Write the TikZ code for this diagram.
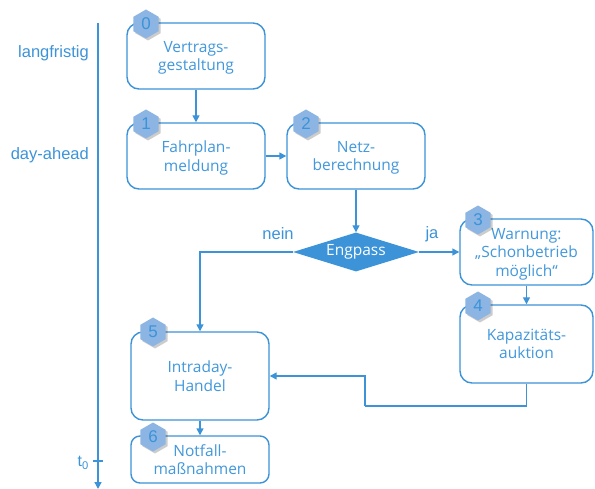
\documentclass[tikz,border=0pt]{standalone}
\usepackage{fontspec}
\setmainfont{Open Sans}
\newfontfamily\arialfont{Liberation Sans}
\usetikzlibrary{shapes.geometric,arrows.meta,shadows}
\definecolor{linieblau}{HTML}{3C93D8}
\definecolor{textblau}{HTML}{4198DC}
\definecolor{wabenblau}{HTML}{8CB5E3}

\tikzset{
	box/.style={draw=linieblau, line width=1.4pt, rounded corners=12pt, fill=white,
		text=textblau, align=center, inner sep=0pt, text depth=-2pt,
		font=\fontsize{15.5}{18.5}\selectfont},
	raute/.style={diamond, aspect=3.2, fill=linieblau, text=white, inner sep=0pt,
		minimum width=126pt, minimum height=39pt, font=\fontsize{15.5}{18.5}\selectfont},
	wabe/.style={regular polygon, regular polygon sides=6, shape border rotate=30,
		minimum size=29pt, inner sep=0pt, fill=wabenblau, text=linieblau,
		font=\arialfont\fontsize{17}{17}\selectfont,
		drop shadow={shadow xshift=2pt, shadow yshift=-2pt, opacity=0.2, fill=black}},
	zeittext/.style={text=linieblau, inner sep=0pt, font=\arialfont\fontsize{16.5}{18}\selectfont},
	pfeil/.style={draw=linieblau, line width=1.4pt, -{Triangle[length=7pt,width=7pt]}},
	linie/.style={draw=linieblau, line width=1.4pt}
}

\begin{document}
\begin{tikzpicture}[x=1pt, y=-1pt]
		\useasboundingbox (0,0) rectangle (595,489);

		\coordinate (zeitoben) at (98,23);
		\coordinate (zeitunten) at (98,489);
		\coordinate (t0) at (98,461);
		\draw[pfeil] (zeitoben) -- (zeitunten);
		\draw[linie] ([xshift=-5pt]t0) -- ([xshift=5pt]t0);

		\node[zeittext, anchor=east] (lang) at (89,53) {langfristig};
		\node[zeittext, anchor=east] (day) at (89,155) {day-ahead};
		\node[zeittext, anchor=east, font=\arialfont\fontsize{16}{16}\selectfont] (t0text) at (89,463) {t\textsubscript{0}};

		\node[box, minimum width=138pt, minimum height=66pt] (b0) at (196,56) {Vertrags-\\gestaltung};
		\node[box, minimum width=138pt, minimum height=66pt] (b1) at (196,156) {Fahrplan-\\meldung};
		\node[box, minimum width=138pt, minimum height=66pt] (b2) at (356,156) {Netz-\\berechnung};
		\node[raute] (eng) at (356,252) {Engpass};
		\node[box, minimum width=133pt, minimum height=66pt] (b3) at (526.5,252) {Warnung:\\„Schonbetrieb\\möglich“};
		\node[box, minimum width=133pt, minimum height=78pt] (b4) at (526.5,344) {Kapazitäts-\\auktion};
		\node[box, minimum width=138pt, minimum height=88pt] (b5) at (200,376) {Intraday-\\Handel};
		\node[box, minimum width=138pt, minimum height=47pt, rounded corners=9pt] (b6) at (200,459.5) {Notfall-\\maßnahmen};

		\node[zeittext] (nein) at (278,234) {nein};
		\node[zeittext] (ja) at (432,234) {ja};

		\coordinate (knick) at (365,406);

		\draw[pfeil] (b0) -- (b1);
		\draw[pfeil] (b1) -- (b2);
		\draw[pfeil] (b2) -- (eng);
		\draw[pfeil] (eng) -- (b3);
		\draw[pfeil] (eng.west) -| (b5.north);
		\draw[pfeil] (b3) -- (b4);
		\draw[linie] (b4.south) |- (knick);
		\draw[pfeil] (knick) |- (b5.east);
		\draw[pfeil] (b5) -- (b6);

		\node[wabe] (w0) at (146,24) {0};
		\node[wabe] (w1) at (146,124) {1};
		\node[wabe] (w2) at (306,124) {2};
		\node[wabe] (w3) at (478,220) {3};
		\node[wabe] (w4) at (478,306) {4};
		\node[wabe] (w5) at (153,332) {5};
		\node[wabe] (w6) at (153,437) {6};

\end{tikzpicture}
\end{document}
